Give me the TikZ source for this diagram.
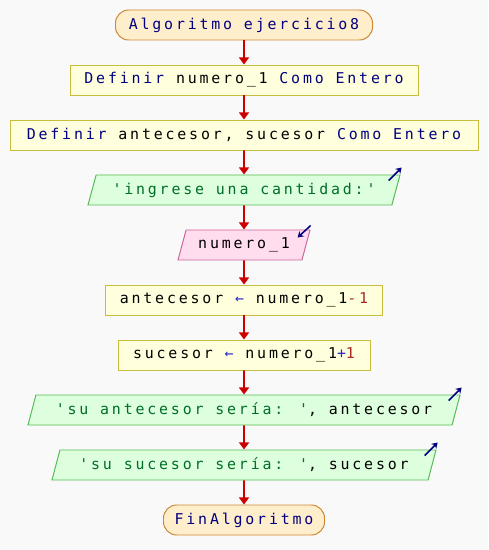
\documentclass[tikz,border=0pt]{standalone}
\usepackage{fontspec}
\newfontfamily\psfont[LetterSpace=19]{DejaVu Sans Mono}
\usepackage{xcolor}
\definecolor{psfondo}{RGB}{249,249,249}
\definecolor{psprocfill}{RGB}{255,255,221}
\definecolor{psprocdraw}{RGB}{200,190,60}
\definecolor{psterfill}{RGB}{255,238,204}
\definecolor{psterdraw}{RGB}{204,136,51}
\definecolor{psoutfill}{RGB}{221,255,221}
\definecolor{psoutdraw}{RGB}{85,187,85}
\definecolor{psinfill}{RGB}{255,221,238}
\definecolor{psindraw}{RGB}{204,102,153}
\definecolor{psrojo}{RGB}{204,0,0}
\definecolor{psnavy}{RGB}{0,0,128}
\definecolor{psverde}{RGB}{0,110,40}
\definecolor{psnum}{RGB}{170,40,40}
\definecolor{psop}{RGB}{40,40,200}
\usepackage{tikz}
\usetikzlibrary{arrows.meta, shapes.geometric}

\newcommand{\psletra}{\psfont\fontsize{10.6}{12}\selectfont\hyphenchar\font=-1\relax}
\newcommand{\clave}[1]{\textcolor{psnavy}{#1}}
\newcommand{\cadena}[1]{\textcolor{psverde}{#1}}
\newcommand{\valor}[1]{\textcolor{psnum}{#1}}
\newcommand{\operador}[1]{\textcolor{psop}{#1}}
\newcommand{\comilla}{\char"0027}

\begin{document}
\begin{tikzpicture}[
  every node/.style={font=\psletra, inner sep=2pt},
  proceso/.style={draw=psprocdraw, fill=psprocfill, line width=0.7pt,
                  minimum height=0.75cm},
  terminal/.style={draw=psterdraw, fill=psterfill, line width=0.7pt,
                   rounded corners=0.33cm, minimum height=0.75cm},
  salida/.style={trapezium, trapezium left angle=68, trapezium right angle=112,
                 trapezium stretches body, draw=psoutdraw, fill=psoutfill,
                 line width=0.7pt, minimum height=0.75cm},
  entrada/.style={salida, draw=psindraw, fill=psinfill},
  flecha/.style={draw=psrojo, line width=1.3pt, -{Triangle[width=7pt,length=5pt]}},
  icono/.style={draw=psnavy, line width=1.1pt, -{Stealth[length=4pt,width=5pt]}}
]

% fondo
\fill[psfondo] (0,0) rectangle (12.2,-13.75);

% === nodos ===
\node[terminal, minimum width=6.425cm] (inicio) at (6.1,-0.625)
     {\clave{Algoritmo ejercicio8}};
\node[proceso, minimum width=8.7cm] (def1) at (6.1,-2.0)
     {\clave{Definir} numero\_1 \clave{Como Entero}};
\node[proceso, minimum width=11.7cm] (def2) at (6.1,-3.375)
     {\clave{Definir} antecesor, sucesor \clave{Como Entero}};
\node[salida, minimum width=7.8cm] (esc1) at (6.1,-4.75)
     {\cadena{\comilla ingrese una cantidad:\comilla}};
\node[entrada, minimum width=3.3cm] (leer) at (6.1,-6.125)
     {numero\_1};
\node[proceso, minimum width=6.925cm] (asig1) at (6.1,-7.5)
     {antecesor \operador{←} numero\_1\valor{-1}};
\node[proceso, minimum width=6.3cm] (asig2) at (6.1,-8.875)
     {sucesor \operador{←} numero\_1\operador{+}\valor{1}};
\node[salida, minimum width=10.8cm] (esc2) at (6.1,-10.25)
     {\cadena{\comilla su antecesor sería: \comilla}, antecesor};
\node[salida, minimum width=9.6cm] (esc3) at (6.1,-11.625)
     {\cadena{\comilla su sucesor sería: \comilla}, sucesor};
\node[terminal, minimum width=4.025cm] (fin) at (6.1,-13.0)
     {\clave{FinAlgoritmo}};

% === flechas ===
\draw[flecha] (inicio) -- (def1);
\draw[flecha] (def1) -- (def2);
\draw[flecha] (def2) -- (esc1);
\draw[flecha] (esc1) -- (leer);
\draw[flecha] (leer) -- (asig1);
\draw[flecha] (asig1) -- (asig2);
\draw[flecha] (asig2) -- (esc2);
\draw[flecha] (esc2) -- (esc3);
\draw[flecha] (esc3) -- (fin);

% iconos de entrada/salida
\draw[icono] ([shift={(-0.3,-0.15)}]esc1.top right corner) -- ++(0.325,0.325);
\draw[icono] ([shift={(-0.3,-0.15)}]esc2.top right corner) -- ++(0.325,0.325);
\draw[icono] ([shift={(-0.3,-0.15)}]esc3.top right corner) -- ++(0.325,0.325);
\draw[icono] ([shift={(0,0.1)}]leer.top right corner) -- ++(-0.325,-0.3);

\end{tikzpicture}
\end{document}
